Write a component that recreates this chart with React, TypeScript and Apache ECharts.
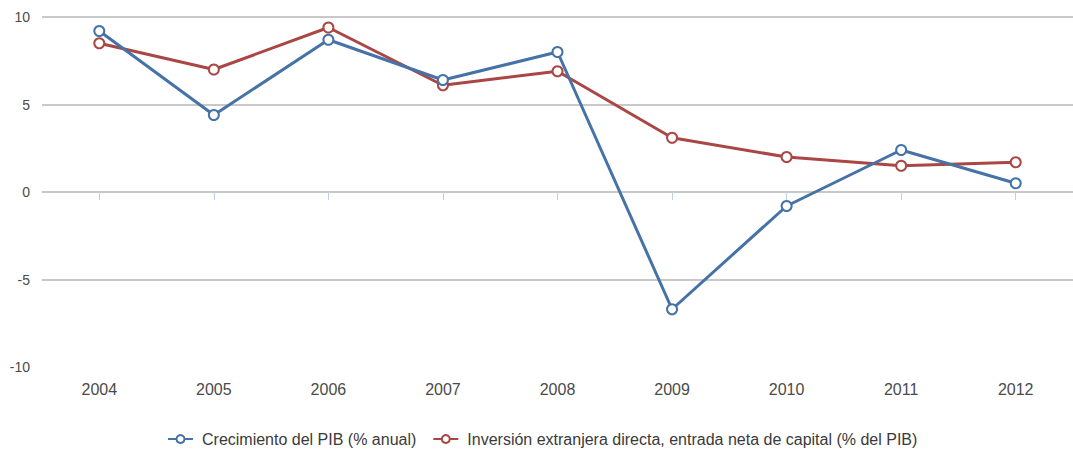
import React, { useEffect, useRef } from "react";
import * as echarts from "echarts";

const years = ["2004", "2005", "2006", "2007", "2008", "2009", "2010", "2011", "2012"];
const gdpGrowth = [9.2, 4.4, 8.7, 6.4, 8.0, -6.7, -0.8, 2.4, 0.5];
const fdiInflow = [8.5, 7.0, 9.4, 6.1, 6.9, 3.1, 2.0, 1.5, 1.7];
const seriesNames = [
  "Crecimiento del PIB (% anual)",
  "Inversión extranjera directa, entrada neta de capital (% del PIB)",
];

const FONT = "'Liberation Sans', Arial, sans-serif";

export default function App() {
  const ref = useRef<HTMLDivElement>(null);
  useEffect(() => {
    if (!ref.current) return;
    const chart = echarts.init(ref.current, null, { renderer: "svg" });
    chart.setOption({
      animation: false,
      backgroundColor: "#ffffff",
      textStyle: { fontFamily: FONT },
      grid: { left: 42, right: -14, top: 17, bottom: 85, containLabel: false },
      legend: {
        top: 431,
        left: 167,
        padding: 0,
        itemGap: 16,
        itemWidth: 25,
        itemHeight: 10,
        textStyle: { fontFamily: FONT, fontSize: 16, color: "#3a3a3a", padding: [0, 0, 0, 4] },
        data: seriesNames,
      },
      xAxis: {
        type: "category",
        data: years,
        boundaryGap: true,
        axisLine: { show: false },
        axisTick: { show: true, alignWithLabel: true, length: 8, lineStyle: { color: "#C0D0E0", width: 1 } },
        axisLabel: { margin: 14, fontFamily: FONT, fontSize: 16, color: "#4a4a4a" },
        splitLine: { show: false },
      },
      yAxis: {
        type: "value",
        min: -10,
        max: 10,
        interval: 5,
        axisLine: { show: false },
        axisTick: { show: false },
        axisLabel: { margin: 12, fontFamily: FONT, fontSize: 14, color: "#4a4a4a" },
        splitLine: { show: true, showMinLine: false, lineStyle: { color: "#c8c8c8", width: 2 } },
      },
      series: [
        {
          name: seriesNames[0],
          type: "line",
          data: gdpGrowth,
          symbol: "emptyCircle",
          symbolSize: 10,
          color: "#4572A7",
          lineStyle: { width: 3, color: "#4572A7" },
          itemStyle: { color: "#4572A7", borderColor: "#4572A7", borderWidth: 2 },
          z: 3,
        },
        {
          name: seriesNames[1],
          type: "line",
          data: fdiInflow,
          symbol: "emptyCircle",
          symbolSize: 10,
          color: "#AA4643",
          lineStyle: { width: 3, color: "#AA4643" },
          itemStyle: { color: "#AA4643", borderColor: "#AA4643", borderWidth: 2 },
          z: 2,
        },
      ],
    });
    return () => chart.dispose();
  }, []);
  return (
    <div
      ref={ref}
      style={{ position: "absolute", left: 0, top: 0, width: 1073, height: 452 }}
    />
  );
}
